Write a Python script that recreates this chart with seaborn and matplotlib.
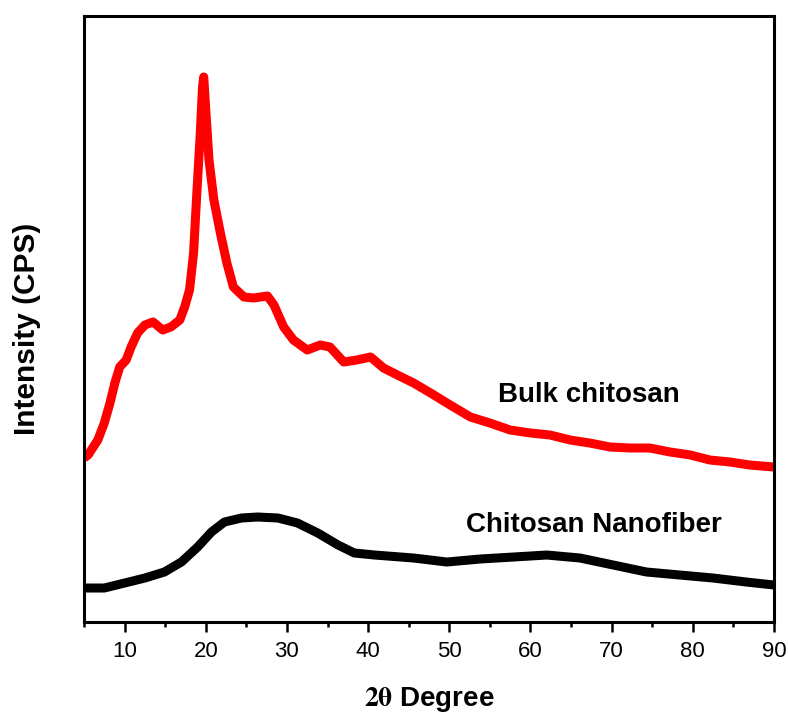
import matplotlib
matplotlib.use("Agg")
import matplotlib.pyplot as plt
from matplotlib.ticker import MultipleLocator
import seaborn as sns
import pandas as pd

# Bulk chitosan XRD pattern (2theta, intensity a.u.)
bulk_2theta = [5.0, 5.5, 6.7, 7.5, 8.2, 8.8, 9.4, 10.2, 10.8, 11.6, 12.5, 13.5, 14.7, 15.7,
               16.8, 17.4, 18.0, 18.5, 18.9, 19.3, 19.6, 19.75, 20.0, 20.4, 21.0, 21.8, 22.6,
               23.4, 24.7, 25.9, 27.6, 28.4, 29.6, 30.8, 32.5, 34.1, 35.3, 37.0, 38.6, 40.3,
               41.9, 43.6, 45.6, 47.7, 49.7, 52.6, 55.0, 57.5, 60.0, 62.4, 64.9, 67.3, 69.8,
               72.3, 74.7, 77.2, 79.7, 82.1, 84.6, 87.0, 90.0]
bulk_int = [164, 167, 182, 199, 219, 239, 255, 262, 275, 289, 297, 300, 292, 295,
            302, 315, 332, 369, 429, 485, 535, 545, 512, 462, 422, 389, 359,
            335, 325, 324, 326, 317, 295, 282, 272, 277, 275, 260, 262, 265,
            254, 247, 239, 229, 219, 205, 199, 192, 189, 187, 182, 179, 175,
            174, 174, 170, 167, 162, 160, 157, 155]

# Chitosan nanofiber XRD pattern
nano_2theta = [5.0, 7.5, 10.0, 12.5, 14.9, 17.0, 19.0, 20.7, 22.3, 24.4, 26.4, 28.9, 31.3,
               33.8, 36.3, 38.3, 40.8, 45.6, 49.7, 53.8, 57.9, 62.0, 66.1, 70.2, 74.3, 78.4,
               82.5, 86.6, 90.0]
nano_int = [34, 34, 39, 44, 50, 60, 75, 90, 100, 104, 105, 104, 99,
            89, 77, 69, 67, 64, 60, 63, 65, 67, 64, 57, 50, 47,
            44, 40, 37]

series_names = ["Bulk chitosan", "Chitosan Nanofiber"]
series_colors = ["#ff0000", "#000000"]
x_ticks = [10, 20, 30, 40, 50, 60, 70, 80, 90]

df = pd.concat([
    pd.DataFrame({"theta": bulk_2theta, "intensity": bulk_int, "sample": series_names[0]}),
    pd.DataFrame({"theta": nano_2theta, "intensity": nano_int, "sample": series_names[1]}),
], ignore_index=True)

sns.set_style("white")
plt.rcParams["font.family"] = ["Liberation Sans", "DejaVu Sans"]
plt.rcParams["mathtext.fontset"] = "stix"
plt.rcParams["text.color"] = "black"
plt.rcParams["axes.labelcolor"] = "black"
plt.rcParams["xtick.color"] = "black"

fig = plt.figure(figsize=(7.88, 7.13), dpi=100)
ax = fig.add_axes([0.1066, 0.1276, 0.8756, 0.8500])

sns.lineplot(data=df, x="theta", y="intensity", hue="sample",
             palette=dict(zip(series_names, series_colors)),
             estimator=None, sort=False, linewidth=6.5, legend=False, ax=ax)
for line in ax.get_lines():
    line.set_solid_joinstyle("round")
    line.set_solid_capstyle("butt")

ax.set_xlim(5, 90)
ax.set_ylim(0, 606)
ax.set_xticks(x_ticks)
ax.xaxis.set_minor_locator(MultipleLocator(5))
ax.set_yticks([])
ax.tick_params(axis="x", which="major", direction="out", length=7, width=1.8,
               labelsize=16, pad=7, bottom=True, top=False, colors="black")
ax.tick_params(axis="x", which="minor", direction="out", length=3.5, width=1.8,
               bottom=True, top=False, colors="black")
for s in ax.spines.values():
    s.set_linewidth(2.2)
    s.set_color("black")

ax.set_xlabel(r"$\mathbf{2\theta}$ Degree", fontsize=20, fontweight="bold", color="black")
ax.set_ylabel("Intensity (CPS)", fontsize=21.5, fontweight="bold", color="black")
ax.xaxis.set_label_coords(0.5, -0.104)
ax.yaxis.set_label_coords(-0.062, 0.483)

ax.text(67.2, 227, series_names[0], fontsize=20, fontweight="bold",
        ha="center", va="center", color="black")
ax.text(67.8, 97, series_names[1], fontsize=20, fontweight="bold",
        ha="center", va="center", color="black")

fig.savefig("out.png", dpi=100)
